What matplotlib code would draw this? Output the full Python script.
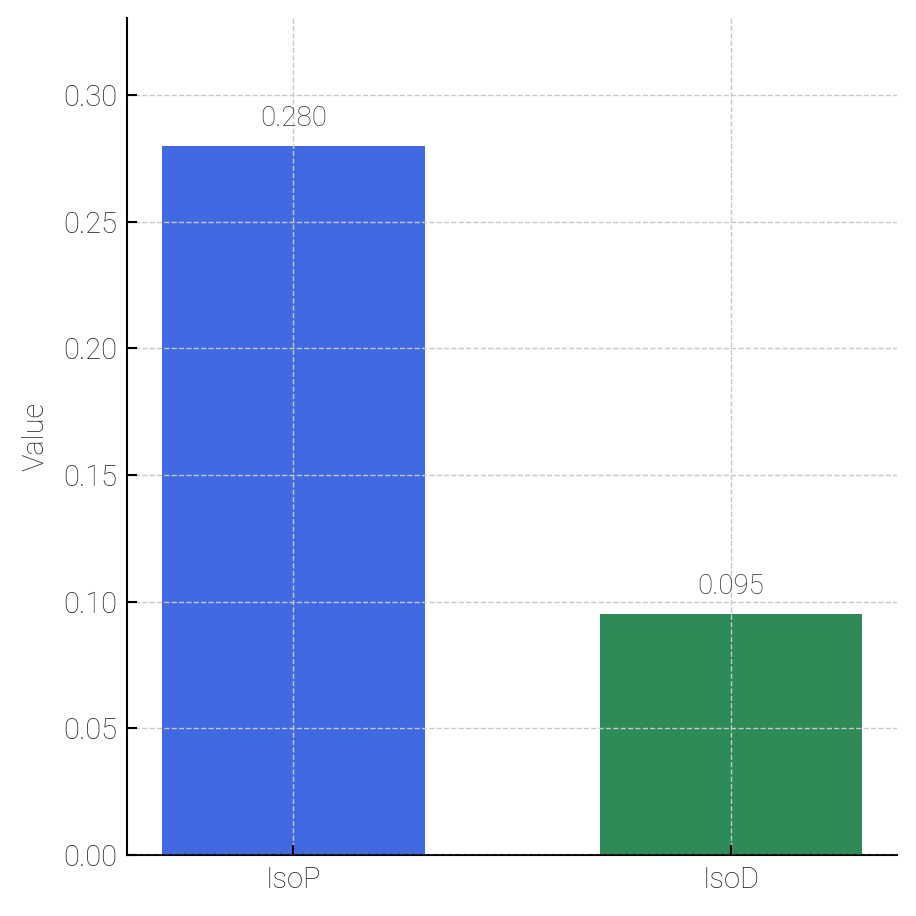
import matplotlib
matplotlib.use("Agg")
import matplotlib.pyplot as plt

categories = ["IsoP", "IsoD"]
values = [0.280, 0.095]
colors = ["#4169E1", "#2E8B57"]

plt.rcParams['font.family'] = ['Roboto', 'DejaVu Sans']
plt.rcParams['font.weight'] = 'light'

fig = plt.figure(figsize=(9.16, 9.16), dpi=100)
ax = fig.add_axes([127/916, 1-855/916, (897-127)/916, (855-18)/916])
bars = ax.bar(categories, values, color=colors, width=0.6, zorder=2)
ax.set_ylim(0, max(values) * 1.18)
ax.set_ylabel("Value", fontsize=21, color="#222222", fontweight="light", labelpad=10)
for b, v in zip(bars, values):
    ax.text(b.get_x() + b.get_width() / 2, v + 0.0055, f"{v:.3f}", ha="center", va="bottom",
            fontsize=20, color="#333333", fontweight="light")
ax.grid(True, linestyle="--", color="#c8c8c8", linewidth=1, zorder=3)
ax.set_axisbelow(False)
for s in ["top", "right"]:
    ax.spines[s].set_visible(False)
for s in ["left", "bottom"]:
    ax.spines[s].set_linewidth(1.5)
ax.tick_params(axis="both", labelsize=21, labelcolor="#222222", width=1.5, length=7, direction="in")
ax.tick_params(axis="y", pad=7)
ax.tick_params(axis="x", pad=8)
ax.set_yticks([0.0, 0.05, 0.10, 0.15, 0.20, 0.25, 0.30])
ax.set_yticklabels([f"{t:.2f}" for t in ax.get_yticks()])
for lbl in ax.get_xticklabels() + ax.get_yticklabels():
    lbl.set_fontweight("light")
fig.savefig("out.png", dpi=100)
